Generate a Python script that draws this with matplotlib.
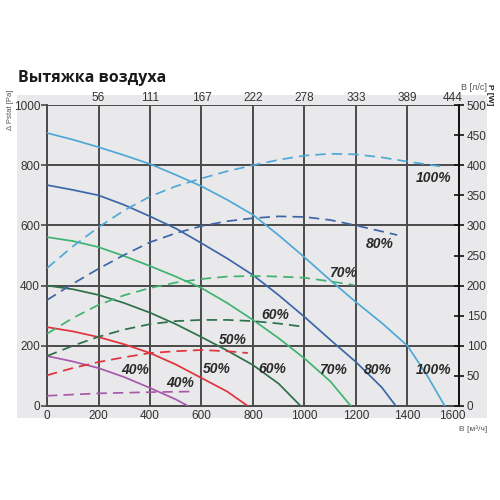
import matplotlib
matplotlib.use('Agg')
import matplotlib.pyplot as plt
from matplotlib.patches import Rectangle
from matplotlib.transforms import offset_copy

plt.rcParams['font.family'] = ['Liberation Sans', 'DejaVu Sans']

# давление (Pa), сплошные линии
x100 = [0, 100, 200, 300, 400, 500, 600, 700, 800, 900, 1000, 1100, 1200, 1300, 1400, 1475, 1545]
p100 = [907, 885, 860, 833, 804, 768, 730, 685, 635, 567, 494, 418, 345, 276, 200, 103, 0]
x80 = [0, 100, 200, 300, 400, 500, 600, 700, 800, 900, 1000, 1100, 1200, 1300, 1355]
p80 = [734, 718, 700, 668, 630, 590, 541, 490, 435, 368, 296, 220, 146, 62, 0]
x70 = [0, 100, 200, 300, 400, 500, 600, 700, 800, 900, 1000, 1100, 1180]
p70 = [561, 548, 528, 498, 465, 430, 392, 342, 286, 225, 158, 82, 0]
x60 = [0, 100, 200, 300, 400, 500, 600, 700, 800, 900, 985]
p60 = [400, 388, 369, 342, 310, 272, 229, 184, 136, 74, 0]
x50 = [0, 100, 200, 300, 400, 500, 600, 700, 780]
p50 = [262, 248, 229, 205, 176, 138, 93, 48, 0]
x40 = [0, 100, 200, 300, 400, 500, 548]
p40 = [166, 148, 126, 96, 60, 22, 0]

# мощность (W), пунктир
wx100 = [0, 100, 200, 300, 400, 500, 600, 700, 800, 900, 1000, 1100, 1200, 1300, 1400, 1545]
w100 = [229, 265, 297, 325, 348, 365, 378, 390, 400, 409, 416, 419, 418, 413, 406, 397]
wx80 = [0, 100, 200, 300, 400, 500, 600, 700, 800, 900, 1000, 1100, 1200, 1300, 1360]
w80 = [176, 203, 228, 251, 272, 287, 299, 307, 312, 315, 314, 309, 300, 290, 284]
wx70 = [0, 100, 200, 300, 400, 500, 600, 700, 800, 900, 1000, 1100, 1190]
w70 = [120, 146, 168, 184, 196, 205, 211, 215, 216, 215, 213, 207, 201]
wx60 = [0, 100, 200, 300, 400, 500, 600, 700, 800, 900, 990]
w60 = [83, 100, 115, 127, 136, 141, 143, 143, 141, 137, 132]
wx50 = [0, 100, 200, 300, 400, 500, 600, 700, 780]
w50 = [51, 63, 73, 81, 88, 91, 93, 91, 88]
wx40 = [0, 200, 400, 555]
w40 = [17, 21, 23, 24]

colors = {'100%': '#4fa8d6', '80%': '#3d66a8', '70%': '#3fb36f',
          '60%': '#2d7049', '50%': '#e2323c', '40%': '#a65aa9'}

# подписи: (x, значение)
p_labels = {'40%': (342, 120), '50%': (660, 123), '60%': (874, 123),
            '70%': (1110, 120), '80%': (1285, 120), '100%': (1500, 120)}
w_labels = {'100%': (1500, 379), '80%': (1293, 269), '70%': (1150, 221),
            '60%': (885, 151), '50%': (722, 110), '40%': (517, 38)}

x_ticks = [0, 200, 400, 600, 800, 1000, 1200, 1400, 1600]
top_labels = ['56', '111', '167', '222', '278', '333', '389', '444']
y_ticks = [0, 200, 400, 600, 800, 1000]
w_ticks = [0, 50, 100, 150, 200, 250, 300, 350, 400, 450, 500]

fig = plt.figure(figsize=(5, 5), dpi=100)
fig.patches.append(Rectangle((0.034, 0.164), 0.94, 0.646, transform=fig.transFigure,
                             facecolor='#e9e9eb', edgecolor='none', zorder=-10))
ax = fig.add_axes([0.094, 0.188, 0.824, 0.602])
ax.set_facecolor('none')
ax2 = ax.twinx()
ax2.set_facecolor('none')

pairs = [('100%', x100, p100), ('80%', x80, p80), ('70%', x70, p70),
         ('60%', x60, p60), ('50%', x50, p50), ('40%', x40, p40)]
for name, xs, ys in pairs:
    ax.plot(xs, ys, color=colors[name], lw=1.25, zorder=3)
wpairs = [('100%', wx100, w100), ('80%', wx80, w80), ('70%', wx70, w70),
          ('60%', wx60, w60), ('50%', wx50, w50), ('40%', wx40, w40)]
for name, xs, ys in wpairs:
    ax2.plot(xs, ys, color=colors[name], lw=1.25, ls=(0, (6, 3.5)), zorder=3)

for name, (xv, yv) in p_labels.items():
    ax.text(xv, yv, name, ha='center', va='center', fontsize=10,
            fontweight='bold', fontstyle='italic', color='#2a2a2a', zorder=5)
for name, (xv, yv) in w_labels.items():
    ax2.text(xv, yv, name, ha='center', va='center', fontsize=10,
             fontweight='bold', fontstyle='italic', color='#2a2a2a', zorder=5)

ax.set_xlim(0, 1600)
ax.set_ylim(0, 1000)
ax2.set_ylim(0, 500)
ax.set_xticks(x_ticks)
ax.set_yticks(y_ticks)
ax2.set_yticks(w_ticks)
ax.grid(True, color='#4a4a4a', lw=1.4)
ax.set_axisbelow(True)

for s in ['top', 'right']:
    ax.spines[s].set_visible(False)
for s in ['top', 'left', 'bottom']:
    ax2.spines[s].set_visible(False)
ax.spines['left'].set_color('#4a4a4a')
ax.spines['left'].set_linewidth(1.4)
ax.spines['bottom'].set_color('#4a4a4a')
ax.spines['bottom'].set_linewidth(1.4)
ax2.spines['right'].set_color('#111111')
ax2.spines['right'].set_linewidth(1.4)

ax.tick_params(axis='y', direction='out', length=4, width=1.2, color='#4a4a4a',
               labelsize=8.5, labelcolor='#333333', pad=1)
ax.tick_params(axis='x', length=0, labelsize=8.5, labelcolor='#333333', pad=3)
ax2.tick_params(axis='y', direction='inout', length=7, width=1.2, color='#111111',
                labelsize=8.5, labelcolor='#333333', pad=2)

# последняя подпись 1600 чуть левее, чтобы не налезала на 0 справа
last = ax.get_xticklabels()[-1]
last.set_transform(offset_copy(last.get_transform(), fig=fig, x=-7, y=0, units='dots'))

# верхняя шкала в л/с
for xv, lab in zip(x_ticks[1:], top_labels):
    dx = -6 if lab == '444' else 0
    ax.text(xv, 1003, lab, ha='center', va='bottom', fontsize=8.5, color='#333333',
            transform=offset_copy(ax.transData, fig=fig, x=dx, y=0, units='dots'))

fig.text(0.036, 0.845, 'Вытяжка воздуха', fontsize=11.5, fontweight='bold',
         family=['Open Sans', 'DejaVu Sans'], color='#1a1a1a', ha='left', va='center')
fig.text(0.021, 0.78, 'Δ Pstat [Pa]', rotation=90, fontsize=5.5, color='#555555',
         ha='center', va='center')
fig.text(0.978, 0.81, 'P [W]', rotation=-90, fontsize=6, fontweight='bold',
         color='#222222', ha='center', va='center')
fig.text(0.974, 0.826, 'В [л/с]', fontsize=6.5, color='#555555', ha='right', va='center')
fig.text(0.974, 0.142, 'В [м³/ч]', fontsize=6, color='#555555', ha='right', va='center')

fig.savefig('out.png', dpi=100)
